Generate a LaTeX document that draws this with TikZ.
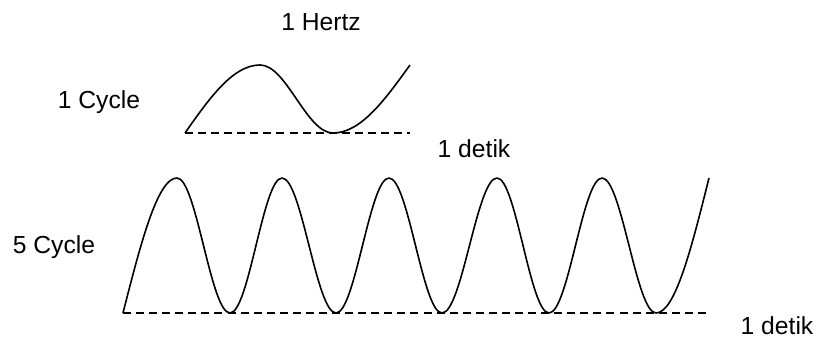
\documentclass[tikz,border=0pt]{standalone}
\usepackage{fontspec}
\setmainfont{Liberation Sans}
\begin{document}
\begin{tikzpicture}[x=0.75pt,y=-0.75pt,
  lbl/.style={font=\fontsize{18.5pt}{22pt}\selectfont, inner sep=0pt},
  wave/.style={line width=1.2pt, line join=round},
  base/.style={line width=1.1pt, dash pattern=on 6pt off 3.8pt}]
\useasboundingbox (0,0) rectangle (818,341);
% labels
\node[lbl] (hertz) at (321,22) {1 Hertz};
\node[lbl] (cyc1) at (99,102) {1 Cycle};
\node[lbl] (det1) at (474,149) {1 detik};
\node[lbl] (cyc5) at (54,247) {5 Cycle};
\node[lbl] (det5) at (777,326) {1 detik};
% top wave
\coordinate (ta) at (185,133);
\coordinate (tb) at (410,133);
\draw[base] (ta) -- (tb);
\draw[wave] (ta) sin (260,65) cos (296.5,99) sin (333,133) cos (410,65);
% bottom wave
\coordinate (ba) at (123,313);
\coordinate (bb) at (709,313);
\draw[base] (ba) -- (bb);
\draw[wave] (ba) sin (177,178)
  cos (203.5,245.5) sin (230,313) cos (256,245.5) sin (282,178)
  cos (309,245.5) sin (336,313) cos (362.5,245.5) sin (389,178)
  cos (415.5,245.5) sin (442,313) cos (469.5,245.5) sin (497,178)
  cos (523,245.5) sin (549,313) cos (575.5,245.5) sin (602,178)
  cos (629,245.5) sin (656,313) cos (709,178);
\end{tikzpicture}
\end{document}
